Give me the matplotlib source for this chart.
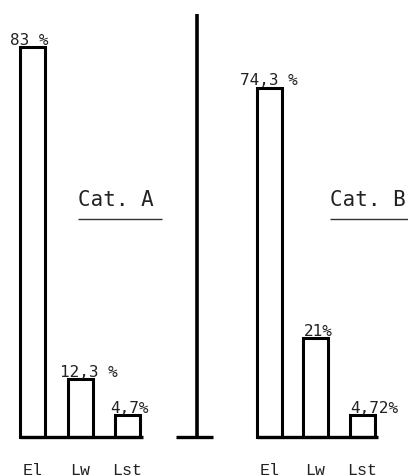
import matplotlib
matplotlib.use('Agg')
import matplotlib.pyplot as plt

# data
categories = ['El', 'Lw', 'Lst']
values_a = [83, 12.3, 4.7]
values_b = [74.3, 21, 4.72]
labels_a = ['83 %', '12,3 %', '4,7%']
labels_b = ['74,3 %', '21%', '4,72%']
titles = ['Cat. A', 'Cat. B']

# layout (x in pixels, y in percent units)
pos_a = [32.5, 80.5, 127.5]
pos_b = [269.5, 315.5, 362.5]
lab_dx_a = [-23, -20, -17]
lab_dx_b = [-29, -12, -12]
bar_w = 25
px = 4.7  # pixels per percent

fig = plt.figure(figsize=(4.08, 4.77), dpi=100)
ax = fig.add_axes([0, 0, 1, 1])
ax.set_xlim(0, 408)
ax.set_ylim(-39 / px, 438 / px)
ax.axis('off')

mono = 'DejaVu Sans Mono'
courier = 'Liberation Mono'

for pos, vals, labs, dxs, title, tx, ux in [
        (pos_a, values_a, labels_a, lab_dx_a, titles[0], 78, (78, 162)),
        (pos_b, values_b, labels_b, lab_dx_b, titles[1], 330, (330, 408))]:
    ax.bar(pos, vals, width=bar_w, fill=False, edgecolor='black', linewidth=2.2)
    ax.hlines(0, pos[0] - bar_w / 2, pos[-1] + bar_w / 2 + 3, color='black', linewidth=2.4)
    for p, v, lab, dx in zip(pos, vals, labs, dxs):
        ax.text(p + dx, v + 0.7, lab, ha='left', va='baseline',
                fontsize=11.5, family=mono, color='#222222')
    for p, c in zip(pos, categories):
        ax.text(p, -7.0, c, ha='center', va='center', fontsize=12,
                family=courier, color='#222222')
    ax.text(tx, (438 - 200) / px, title, ha='left', va='center',
            fontsize=15, family=mono, color='#222222')
    ax.hlines((438 - 220) / px, ux[0], ux[1], color='#333333', linewidth=1.0)

# divider between the two panels
ax.vlines(197, 0, (438 - 15) / px, color='black', linewidth=2.6)
ax.hlines(0, 176, 213, color='black', linewidth=2.4)

plt.savefig('out.png', dpi=100)
